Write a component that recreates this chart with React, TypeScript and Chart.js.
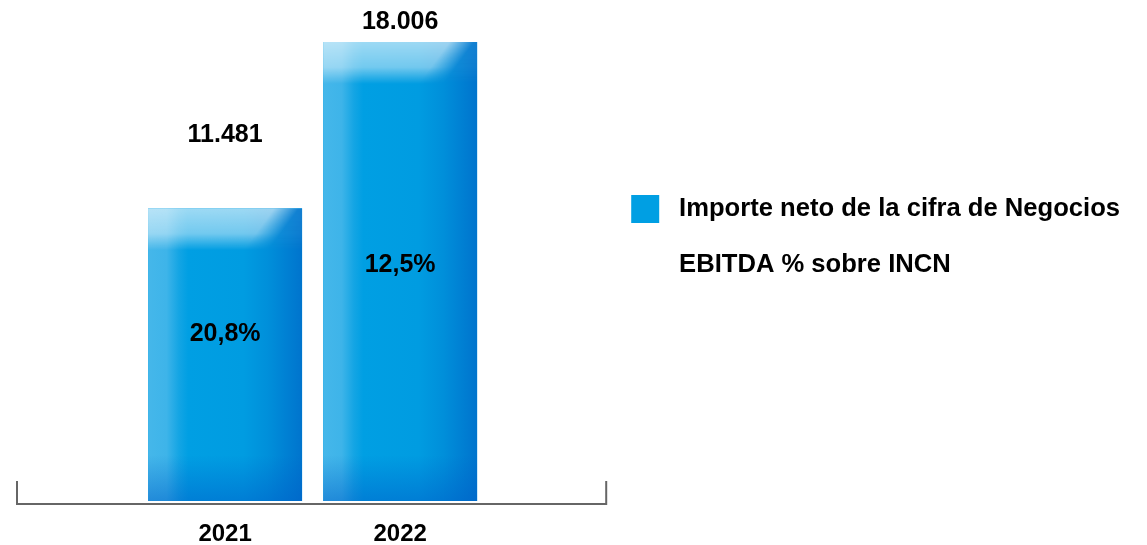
import React, { useEffect, useRef } from 'react';
import { Chart, registerables } from 'chart.js';

Chart.register(...registerables);

// ---- data ----
const years = [2021, 2022];
const yearLabels = ['2021', '2022'];
const revenue = [11481, 18006];
const revenueLabels = ['11.481', '18.006'];
const ebitdaPct = [20.8, 12.5];
const ebitdaLabels = ['20,8%', '12,5%'];
const seriesNames = ['Importe neto de la cifra de Negocios', 'EBITDA % sobre INCN'];

// ---- style ----
const FONT = "'Liberation Sans', Arial, Helvetica, sans-serif";
const BAR_BLUE = '#009FE3';
const AXIS_GRAY = '#666666';
const VALUE_LABEL_LIFT = [75, 21];
const TEXT_DY = 1.5;
const BRACKET_EXTRA_RIGHT = 3;

function makeHighlight(w: number, th: number): HTMLCanvasElement {
  const c = document.createElement('canvas');
  c.width = Math.ceil(w);
  c.height = Math.ceil(th);
  const g = c.getContext('2d') as CanvasRenderingContext2D;
  const vg = g.createLinearGradient(0, 0, 0, th);
  vg.addColorStop(0, 'rgba(255,255,255,0.62)');
  vg.addColorStop(0.6, 'rgba(255,255,255,0.45)');
  vg.addColorStop(1, 'rgba(255,255,255,0)');
  g.fillStyle = vg;
  g.fillRect(0, 0, w, th);
  const ax = 0.9 * w, ay = 0, bx = 0.7 * w, by = th;
  const dx = bx - ax, dy = by - ay;
  const len = Math.hypot(dx, dy);
  const nx = dy / len, ny = -dx / len;
  const mx = (ax + bx) / 2, my = (ay + by) / 2;
  const mg = g.createLinearGradient(mx - 10 * nx, my - 10 * ny, mx + 10 * nx, my + 10 * ny);
  mg.addColorStop(0, 'rgba(0,0,0,1)');
  mg.addColorStop(1, 'rgba(0,0,0,0.12)');
  g.globalCompositeOperation = 'destination-in';
  g.fillStyle = mg;
  g.fillRect(0, 0, w, th);
  return c;
}

const glassPlugin = {
  id: 'glassAndLabels',
  afterDatasetsDraw(chart: any) {
    const ctx = chart.ctx as CanvasRenderingContext2D;
    const barMeta = chart.getDatasetMeta(0);
    barMeta.data.forEach((el: any) => {
      const p = el.getProps(['x', 'y', 'width', 'base'], true);
      const l = p.x - p.width / 2;
      const r = p.x + p.width / 2;
      const t = Math.min(p.y, p.base);
      const b = Math.max(p.y, p.base);
      const w = r - l;
      const h = b - t;
      ctx.save();
      ctx.beginPath();
      ctx.rect(l, t, w, h);
      ctx.clip();
      const hg = ctx.createLinearGradient(l, 0, r, 0);
      hg.addColorStop(0, '#45b7ea');
      hg.addColorStop(0.12, '#3eb4e9');
      hg.addColorStop(0.2, '#14a5e4');
      hg.addColorStop(0.26, '#009fe3');
      hg.addColorStop(0.62, '#009ce1');
      hg.addColorStop(0.78, '#008fda');
      hg.addColorStop(0.9, '#0080d3');
      hg.addColorStop(1, '#0074cd');
      ctx.fillStyle = hg;
      ctx.fillRect(l, t, w, h);
      const bh = 46;
      const bg = ctx.createLinearGradient(0, b - bh, 0, b);
      bg.addColorStop(0, 'rgba(0,95,200,0)');
      bg.addColorStop(0.6, 'rgba(0,95,200,0.3)');
      bg.addColorStop(1, 'rgba(0,95,200,0.5)');
      ctx.fillStyle = bg;
      ctx.fillRect(l, b - bh, w, bh);
      const th = 42;
      ctx.drawImage(makeHighlight(w, th), l, t);
      ctx.restore();
    });

    ctx.save();
    ctx.fillStyle = '#000';
    ctx.textAlign = 'center';
    ctx.textBaseline = 'middle';
    ctx.font = `bold 25px ${FONT}`;
    barMeta.data.forEach((el: any, i: number) => {
      ctx.fillText(revenueLabels[i], el.x, el.y - VALUE_LABEL_LIFT[i] + TEXT_DY);
    });
    const pctMeta = chart.getDatasetMeta(1);
    pctMeta.data.forEach((el: any, i: number) => {
      ctx.fillText(ebitdaLabels[i], el.x, el.y + TEXT_DY);
    });
    ctx.restore();
  },
  afterDraw(chart: any) {
    const ctx = chart.ctx as CanvasRenderingContext2D;
    const xs = chart.scales.x;
    const yb = chart.chartArea.bottom + 3;
    const xr = xs.right + BRACKET_EXTRA_RIGHT;
    ctx.save();
    ctx.strokeStyle = AXIS_GRAY;
    ctx.lineWidth = 2;
    ctx.lineJoin = 'miter';
    ctx.beginPath();
    ctx.moveTo(xs.left, yb - 23);
    ctx.lineTo(xs.left, yb);
    ctx.lineTo(xr, yb);
    ctx.lineTo(xr, yb - 23);
    ctx.stroke();
    ctx.restore();
  },
};

export default function App() {
  const canvasRef = useRef<HTMLCanvasElement | null>(null);

  useEffect(() => {
    if (!canvasRef.current) return;
    Chart.defaults.font.family = FONT;
    const defaultGen = (Chart.defaults as any).plugins.legend.labels.generateLabels;
    const chart = new Chart(canvasRef.current, {
      type: 'bar',
      data: {
        datasets: [
          {
            type: 'bar',
            label: seriesNames[0],
            data: years.map((yr, i) => ({ x: yr, y: revenue[i] })),
            backgroundColor: BAR_BLUE,
            borderWidth: 0,
            categoryPercentage: 1,
            barPercentage: 0.88,
            xAxisID: 'x',
            yAxisID: 'y',
          } as any,
          {
            type: 'line',
            label: seriesNames[1],
            data: years.map((yr, i) => ({ x: yr, y: ebitdaPct[i] })),
            backgroundColor: 'rgba(0,0,0,0)',
            borderColor: 'rgba(0,0,0,0)',
            borderWidth: 0,
            pointRadius: 0,
            showLine: false,
            xAxisID: 'x',
            yAxisID: 'y1',
          } as any,
        ],
      },
      options: {
        animation: false,
        responsive: false,
        layout: { padding: { left: 17, right: 17, top: 0, bottom: 0 } },
        scales: {
          x: {
            type: 'linear',
            min: 2019.8114,
            max: 2023.16,
            offset: false,
            afterBuildTicks: (s: any) => {
              s.ticks = years.map((v) => ({ value: v }));
            },
            ticks: {
              autoSkip: false,
              maxRotation: 0,
              padding: 0,
              color: '#000',
              font: { family: FONT, size: 24, weight: 'bold', lineHeight: 21 / 24 },
              callback: (v: any) => {
                const idx = years.indexOf(Number(v));
                return idx >= 0 ? yearLabels[idx] : '';
              },
            },
            grid: {
              display: true,
              offset: false,
              drawOnChartArea: false,
              drawTicks: true,
              tickLength: 23,
              color: 'rgba(0,0,0,0)',
            },
            border: { display: false },
          } as any,
          y: { display: false, min: 0, max: 19650 },
          y1: { display: false, reverse: true, min: -19.31, max: 41.13, position: 'right' },
        },
        plugins: {
          tooltip: { enabled: false },
          legend: {
            position: 'right',
            align: 'start',
            title: {
              display: true,
              text: '',
              padding: { top: 0, bottom: 152.6 },
              font: { size: 12, lineHeight: 1.2 },
            },
            labels: {
              boxWidth: 28,
              boxHeight: 28,
              padding: 28,
              color: '#000',
              font: { family: FONT, size: 25.6, weight: 'bold' },
              generateLabels: (c: any) =>
                defaultGen(c).map((item: any) => ({ ...item, text: ' ' + item.text })),
            },
          } as any,
        },
      } as any,
      plugins: [glassPlugin],
    });
    return () => chart.destroy();
  }, []);

  return (
    <div style={{ position: 'fixed', left: 0, top: 0, width: 1147, height: 545, background: '#fff' }}>
      <canvas ref={canvasRef} width={1147} height={545} style={{ display: 'block' }} />
    </div>
  );
}
